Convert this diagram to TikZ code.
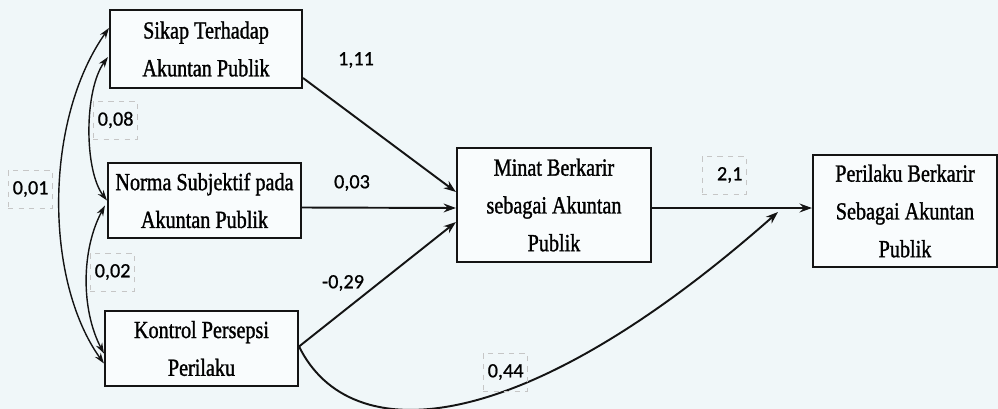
\documentclass[tikz,border=0pt]{standalone}
\usepackage{fontspec}
\setmainfont{Liberation Serif}
\newfontfamily\boxfont[FakeStretch=0.82,FakeBold=1.2]{Liberation Serif}
\newfontfamily\labfont[FakeBold=0.8]{Carlito}
\usetikzlibrary{arrows.meta,calc}
\definecolor{bgc}{RGB}{240,247,249}
\definecolor{ink}{RGB}{20,20,20}
\tikzset{
  var/.style={draw=ink, line width=1.2pt, fill=white!60!bgc, align=center, font=\boxfont\fontsize{14}{21.5}\selectfont, inner sep=1pt},
  lbox/.style={draw=gray!45, dashed, line width=0.4pt, text width=0.74cm, align=right, inner sep=2pt, minimum height=0.76cm, font=\labfont\fontsize{11.5}{13}\selectfont},
  plab/.style={font=\labfont\fontsize{11.5}{13}\selectfont, inner sep=1pt},
  arr/.style={draw=ink, line width=1.1pt, -{Stealth[length=7pt,width=5pt]}},
  darr/.style={draw=ink, line width=0.8pt, {Stealth[length=6pt,width=4pt]}-{Stealth[length=6pt,width=4pt]}}
}
\begin{document}
\begin{tikzpicture}[x=0.02cm,y=-0.02cm]
\fill[bgc] (0,0) rectangle (998,409);
\useasboundingbox (0,0) rectangle (998,409);
% variables
\node[var, minimum width=3.84cm, minimum height=1.56cm] (sk) at (206,49) {Sikap Terhadap\\Akuntan Publik};
\node[var, minimum width=3.86cm, minimum height=1.5cm] (ns) at (204.5,200.5) {Norma Subjektif pada\\Akuntan Publik};
\node[var, minimum width=3.86cm, minimum height=1.5cm] (kp) at (201.5,348.5) {Kontrol Persepsi\\Perilaku};
\node[var, minimum width=3.88cm, minimum height=2.28cm] (mn) at (554,205) {Minat Berkarir\\sebagai Akuntan\\Publik};
\node[var, minimum width=3.68cm, minimum height=2.24cm] (pb) at (905,211) {Perilaku Berkarir\\Sebagai Akuntan\\Publik};
% direct paths
\draw[arr] ($(sk.east)+(0,29)$) -- ($(mn.west)+(0,-13)$);
\draw[arr] ($(ns.east)+(0,7)$) -- ($(mn.west)+(0,3)$);
\draw[arr] ($(kp.east)+(0,-2)$) -- ($(mn.west)+(0,17)$);
\draw[arr] ($(mn.east)+(0,3)$) -- ($(pb.west)+(0,-3)$);
\coordinate (c44) at (778,212);
\draw[arr] ($(kp.east)+(0,-2)$) .. controls (350,450) and (520,440) .. (c44);
% correlations
\draw[darr] ($(sk.west)+(0,-21)$) .. controls (44,120) and (44,280) .. ($(kp.west)+(0,15)$);
\draw[darr] ($(sk.west)+(-1,8)$) .. controls (84,90) and (84,170) .. ($(ns.west)+(0,0)$);
\draw[darr] ($(ns.west)+(-2,5)$) .. controls (81,250) and (81,310) .. ($(kp.west)+(0,5)$);
% labels
\node[lbox] (l01) at (30,189) {0,01};
\node[lbox] (l08) at (115,120) {0,08};
\node[lbox] (l02) at (112,272) {0,02};
\node[lbox] (l44) at (505,372) {0,44};
\node[lbox] (l21) at (724,175) {2,1};
\node[plab] (l111) at (356,60) {1,11};
\node[plab] (l003) at (352,183) {0,03};
\node[plab] (l029) at (343,283) {-0,29};
\end{tikzpicture}
\end{document}
